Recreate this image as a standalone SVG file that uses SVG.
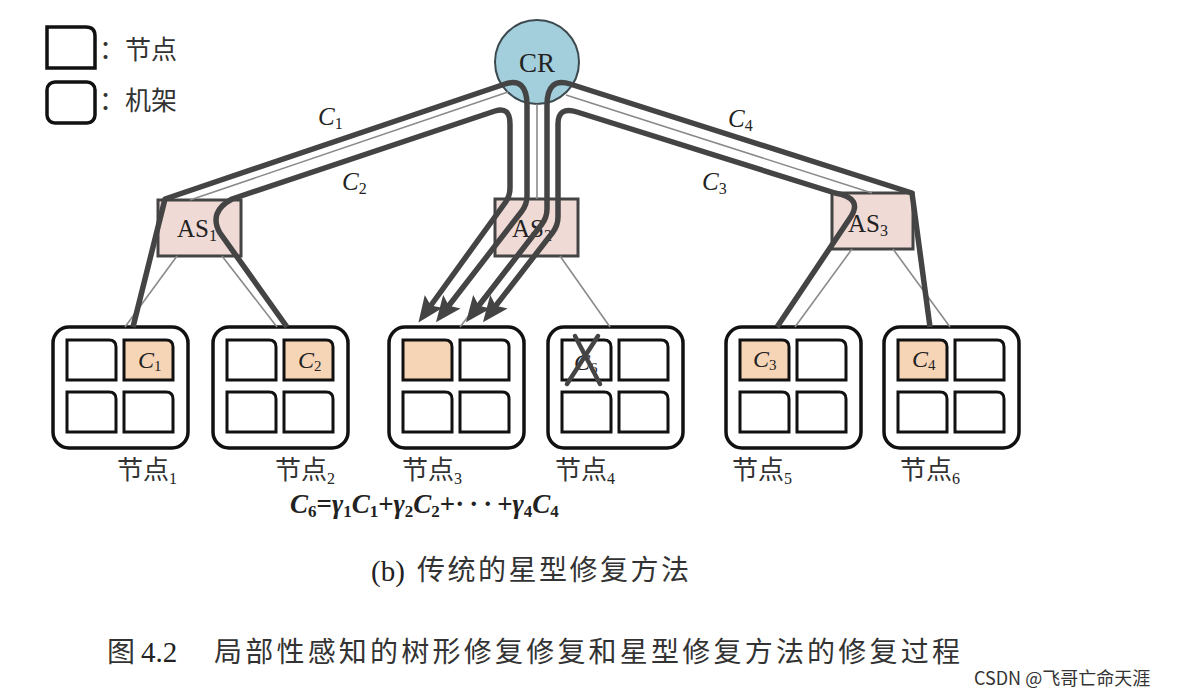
<svg xmlns="http://www.w3.org/2000/svg" width="1178" height="696" viewBox="0 0 1178 696">
<style>
.rack{fill:#fff;stroke:#111;stroke-width:3.5}
.cell{fill:#fff;stroke:#111;stroke-width:3}
.cellf{fill:#f6d5b7;stroke:#111;stroke-width:3}
.as{fill:#efdad6;stroke:#444;stroke-width:3}
.cr{fill:#a3cedb;stroke:#3c4a50;stroke-width:2}
.thick{fill:none;stroke:#444;stroke-width:5.5;stroke-linejoin:round}
.arrow{marker-end:url(#arr)}
.thin{fill:none;stroke:#8a8a8a;stroke-width:1.6}
.cjk{font-family:"Noto Sans CJK SC",sans-serif;fill:#333}
.lat{font-family:"Liberation Serif",serif;fill:#222}
.it{font-style:italic}
.x{stroke:#444;stroke-width:4.5;stroke-linecap:round}
</style>
<defs>
<path id="cellshape" d="M0,0 H42 Q49,0 49,7 V40 H0 Z"/>
<marker id="arr" markerUnits="userSpaceOnUse" markerWidth="26" markerHeight="22" refX="8" refY="11" orient="auto" viewBox="0 0 26 22"><path d="M0,0 L26,11 L0,22 L5,11 Z" fill="#444"/></marker>
</defs>
<rect width="1178" height="696" fill="#fff"/>

<g id="legend">
<path class="rack" d="M47,27 H86 Q95,27 95,36 V68 H47 Z"/>
<rect class="rack" x="47" y="82" width="48" height="41" rx="8"/>
<text class="cjk" x="99" y="59" font-size="26">：节点</text>
<text class="cjk" x="99" y="110" font-size="26">：机架</text>
</g>

<g id="CR">
<circle class="cr" cx="537" cy="62" r="42"/>
<text class="lat" x="537" y="72" font-size="27" text-anchor="middle" fill="#1b2b3b">CR</text>
</g>

<g id="AS1">
<rect class="as" x="158" y="200" width="83" height="56"/>
<text class="lat" x="177" y="237" font-size="25">AS<tspan font-size="16" dy="4">1</tspan></text>
</g>
<g id="AS2">
<rect class="as" x="495" y="199" width="83" height="57"/>
<text class="lat" x="512" y="237" font-size="25">AS<tspan font-size="16" dy="4">2</tspan></text>
</g>
<g id="AS3">
<rect class="as" x="832" y="193" width="81" height="56"/>
<text class="lat" x="848" y="232" font-size="25">AS<tspan font-size="16" dy="4">3</tspan></text>
</g>

<g id="node1">
<rect class="rack" x="53" y="327" width="135" height="121" rx="16"/>
<use href="#cellshape" class="cell" x="67" y="340"/>
<use href="#cellshape" class="cellf" x="124" y="340"/>
<use href="#cellshape" class="cell" x="67" y="392"/>
<use href="#cellshape" class="cell" x="124" y="392"/>
<text class="lat" x="138" y="368" font-size="24"><tspan class="it">C</tspan><tspan font-size="15" dy="3">1</tspan></text>
<text class="cjk" x="117" y="479" font-size="26">节点<tspan class="lat" font-size="16" dy="5">1</tspan></text>
</g>
<g id="node2">
<rect class="rack" x="213" y="327" width="135" height="121" rx="16"/>
<use href="#cellshape" class="cell" x="227" y="340"/>
<use href="#cellshape" class="cellf" x="284" y="340"/>
<use href="#cellshape" class="cell" x="227" y="392"/>
<use href="#cellshape" class="cell" x="284" y="392"/>
<text class="lat" x="298" y="368" font-size="24"><tspan class="it">C</tspan><tspan font-size="15" dy="3">2</tspan></text>
<text class="cjk" x="275" y="479" font-size="26">节点<tspan class="lat" font-size="16" dy="5">2</tspan></text>
</g>
<g id="node3">
<rect class="rack" x="389" y="327" width="135" height="121" rx="16"/>
<use href="#cellshape" class="cellf" x="403" y="340"/>
<use href="#cellshape" class="cell" x="460" y="340"/>
<use href="#cellshape" class="cell" x="403" y="392"/>
<use href="#cellshape" class="cell" x="460" y="392"/>
<text class="cjk" x="402" y="479" font-size="26">节点<tspan class="lat" font-size="16" dy="5">3</tspan></text>
</g>
<g id="node4">
<rect class="rack" x="548" y="327" width="135" height="121" rx="16"/>
<use href="#cellshape" class="cell" x="562" y="340"/>
<use href="#cellshape" class="cell" x="619" y="340"/>
<use href="#cellshape" class="cell" x="562" y="392"/>
<use href="#cellshape" class="cell" x="619" y="392"/>
<text class="lat" x="574" y="370" font-size="24"><tspan class="it">C</tspan><tspan font-size="15" dy="3">6</tspan></text>
<line class="x" x1="575" y1="336" x2="600" y2="384"/>
<line class="x" x1="598" y1="336" x2="567" y2="384"/>
<text class="cjk" x="555" y="479" font-size="26">节点<tspan class="lat" font-size="16" dy="5">4</tspan></text>
</g>
<g id="node5">
<rect class="rack" x="726" y="327" width="135" height="121" rx="16"/>
<use href="#cellshape" class="cellf" x="740" y="340"/>
<use href="#cellshape" class="cell" x="797" y="340"/>
<use href="#cellshape" class="cell" x="740" y="392"/>
<use href="#cellshape" class="cell" x="797" y="392"/>
<text class="lat" x="753" y="367" font-size="24"><tspan class="it">C</tspan><tspan font-size="15" dy="3">3</tspan></text>
<text class="cjk" x="732" y="479" font-size="26">节点<tspan class="lat" font-size="16" dy="5">5</tspan></text>
</g>
<g id="node6">
<rect class="rack" x="884" y="327" width="135" height="121" rx="16"/>
<use href="#cellshape" class="cellf" x="898" y="340"/>
<use href="#cellshape" class="cell" x="955" y="340"/>
<use href="#cellshape" class="cell" x="898" y="392"/>
<use href="#cellshape" class="cell" x="955" y="392"/>
<text class="lat" x="912" y="367" font-size="24"><tspan class="it">C</tspan><tspan font-size="15" dy="3">4</tspan></text>
<text class="cjk" x="900" y="479" font-size="26">节点<tspan class="lat" font-size="16" dy="5">6</tspan></text>
</g>

<g id="connectors">
<line class="thin" x1="190" y1="200" x2="508" y2="92"/>
<line class="thin" x1="566" y1="95" x2="872" y2="193"/>
<line class="thin" x1="537" y1="104" x2="537" y2="199"/>
<line class="thin" x1="177" y1="256" x2="125" y2="327"/>
<line class="thin" x1="222" y1="256" x2="277" y2="327"/>
<line class="thin" x1="515" y1="256" x2="460" y2="327"/>
<line class="thin" x1="560" y1="256" x2="610" y2="327"/>
<line class="thin" x1="852" y1="249" x2="795" y2="327"/>
<line class="thin" x1="893" y1="249" x2="950" y2="327"/>
<path class="thick arrow" d="M133,327 L165,199 L505,84 Q527,77 527,105 L527,196 Q527,204 522,211 L447,308"/>
<path class="thick arrow" d="M287,327 L220,233 Q208,212 232,199 L495,111 Q510,106 510,124 L510,188 Q510,196 505,203 L429,308"/>
<path class="thick arrow" d="M930,327 L912,193 L570,84 Q547,77 547,105 L547,209 Q547,217 542,224 L477,308"/>
<path class="thick arrow" d="M777,327 L850,218 Q864,198 835,193 L577,112 Q558,106 558,124 L558,217 Q558,225 553,232 L494,308"/>
</g>

<g id="linklabels" class="lat" font-size="25">
<text x="318" y="125"><tspan class="it">C</tspan><tspan font-size="16" dy="4">1</tspan></text>
<text x="342" y="190"><tspan class="it">C</tspan><tspan font-size="16" dy="4">2</tspan></text>
<text x="702" y="190"><tspan class="it">C</tspan><tspan font-size="16" dy="4">3</tspan></text>
<text x="728" y="127"><tspan class="it">C</tspan><tspan font-size="16" dy="4">4</tspan></text>
</g>

<text class="lat" x="290" y="513" font-size="27" font-weight="bold" fill="#111"><tspan class="it">C</tspan><tspan font-size="17" dy="4">6</tspan><tspan dy="-4">=</tspan><tspan class="it">γ</tspan><tspan font-size="17" dy="4">1</tspan><tspan class="it" dy="-4">C</tspan><tspan font-size="17" dy="4">1</tspan><tspan dy="-4">+</tspan><tspan class="it">γ</tspan><tspan font-size="17" dy="4">2</tspan><tspan class="it" dy="-4">C</tspan><tspan font-size="17" dy="4">2</tspan><tspan dy="-4">+</tspan><tspan letter-spacing="5">···</tspan><tspan>+</tspan><tspan class="it">γ</tspan><tspan font-size="17" dy="4">4</tspan><tspan class="it" dy="-4">C</tspan><tspan font-size="17" dy="4">4</tspan></text>

<text class="lat" x="371" y="581" font-size="29" fill="#333">(b)</text>
<text class="cjk" x="417" y="580" font-size="28" textLength="272" lengthAdjust="spacing">传统的星型修复方法</text>

<text class="cjk" x="107" y="662" font-size="28">图</text>
<text class="lat" x="141" y="662" font-size="29" fill="#333">4.2</text>
<text class="cjk" x="214" y="662" font-size="28" textLength="746" lengthAdjust="spacing">局部性感知的树形修复修复和星型修复方法的修复过程</text>
<text class="cjk" x="974" y="685" font-size="18" fill="#888">CSDN @飞哥亡命天涯</text>
</svg>
